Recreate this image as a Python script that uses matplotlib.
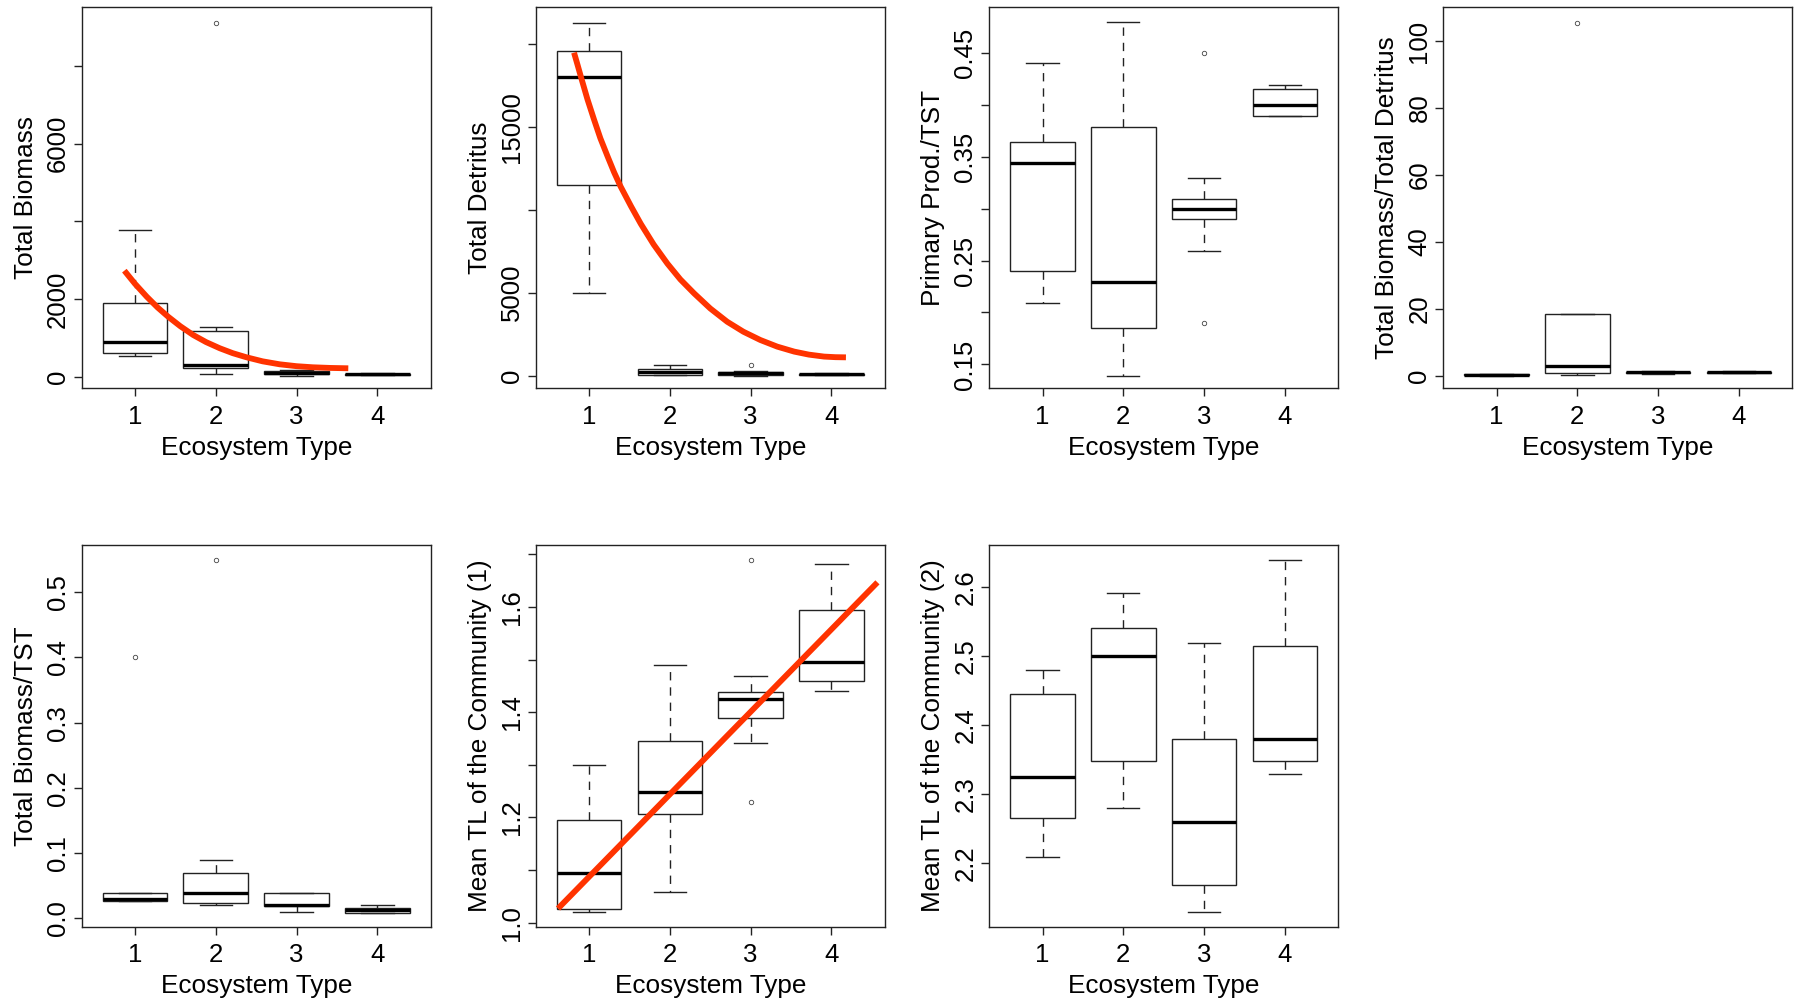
"""
Ecosystem-type boxplots of network indices (seven panels, R-style layout).

Output:
    out.png
"""

import matplotlib
matplotlib.use("Agg")
import matplotlib.pyplot as plt

plt.rcParams["font.family"] = ["Liberation Sans", "DejaVu Sans"]

groups = [1, 2, 3, 4]
x_label = "Ecosystem Type"

# Total Biomass
biomass_whislo = [541, 69, 20, 40]
biomass_q1 = [618, 232, 60, 50]
biomass_med = [901, 301, 100, 65]
biomass_q3 = [1889, 1168, 150, 80]
biomass_whishi = [3776, 1271, 180, 90]
biomass_fliers = [[], [9112], [], []]
biomass_fit_x = [0.868, 1.00, 1.145, 1.28, 1.41, 1.56, 1.72, 1.88, 2.05,
                 2.21, 2.38, 2.58, 2.79, 3.00, 3.20, 3.42, 3.64]
biomass_fit_y = [2729, 2390, 2059, 1780, 1544, 1300, 1073, 890, 731,
                 605, 499, 395, 319, 270, 242, 225, 216]

# Total Detritus
detritus_whislo = [5000, 60, 0, 20]
detritus_q1 = [11488, 60, 60, 40]
detritus_med = [17976, 220, 150, 80]
detritus_q3 = [19578, 380, 250, 120]
detritus_whishi = [21265, 660, 290, 140]
detritus_fliers = [[], [], [660], []]
detritus_fit_x = [0.814, 0.86, 0.90, 0.98, 1.06, 1.14, 1.23, 1.31, 1.39,
                  1.52, 1.64, 1.80, 1.97, 2.13, 2.30, 2.50, 2.71, 2.91,
                  3.12, 3.33, 3.54, 3.72, 3.91, 4.05, 4.18]
detritus_fit_y = [19458, 18680, 17990, 16650, 15450, 14300, 13200, 12250,
                  11400, 10200, 9150, 7900, 6750, 5800, 4960, 4050, 3250,
                  2650, 2150, 1750, 1450, 1270, 1150, 1115, 1105]

# Primary Prod./TST
pp_whislo = [0.2088, 0.1391, 0.2594, 0.3891]
pp_q1 = [0.2396, 0.1847, 0.2900, 0.3891]
pp_med = [0.3441, 0.2296, 0.2993, 0.3997]
pp_q3 = [0.3643, 0.3788, 0.3092, 0.4148]
pp_whishi = [0.4398, 0.4792, 0.3297, 0.4189]
pp_fliers = [[], [], [0.45, 0.19], []]

# Total Biomass/Total Detritus
bd_whislo = [0.05, 0.2, 0.5, 0.8]
bd_q1 = [0.1, 0.7, 0.7, 0.8]
bd_med = [0.3, 3.0, 1.0, 1.0]
bd_q3 = [0.5, 18.4, 1.2, 1.2]
bd_whishi = [0.6, 18.4, 1.5, 1.3]
bd_fliers = [[], [105.5], [], []]

# Total Biomass/TST
bt_whislo = [0.027, 0.0209, 0.0102, 0.0087]
bt_q1 = [0.027, 0.024, 0.0189, 0.0087]
bt_med = [0.0291, 0.0393, 0.0209, 0.0128]
bt_q3 = [0.0393, 0.070, 0.0393, 0.0153]
bt_whishi = [0.0393, 0.0894, 0.0393, 0.0204]
bt_fliers = [[0.40], [0.55], [], []]

# Mean TL of the Community (1)
tl1_whislo = [1.0209, 1.0589, 1.341, 1.4398]
tl1_q1 = [1.0253, 1.206, 1.3885, 1.46]
tl1_med = [1.0938, 1.249, 1.4246, 1.4962]
tl1_q3 = [1.1952, 1.3454, 1.4392, 1.5944]
tl1_whishi = [1.2997, 1.4899, 1.4696, 1.6819]
tl1_fliers = [[], [], [1.6895, 1.2288], []]
tl1_fit_x = [0.616, 4.57]
tl1_fit_y = [1.027, 1.647]

# Mean TL of the Community (2)
tl2_whislo = [2.2097, 2.2797, 2.130, 2.3295]
tl2_q1 = [2.2652, 2.3488, 2.1686, 2.3488]
tl2_med = [2.3256, 2.5005, 2.2594, 2.3797]
tl2_q3 = [2.4454, 2.5406, 2.3797, 2.515]
tl2_whishi = [2.480, 2.5913, 2.5188, 2.6396]
tl2_fliers = [[], [], [], []]


def make_stats(whislo, q1, med, q3, whishi, fliers):
    stats = []
    for i in range(len(med)):
        stats.append(
            {
                "whislo": whislo[i],
                "q1": q1[i],
                "med": med[i],
                "q3": q3[i],
                "whishi": whishi[i],
                "fliers": fliers[i],
            }
        )
    return stats


# (axes rect in figure fraction, ylabel, stats, ylim, yticks, yticklabels, fit)
panels = [
    (
        [0.0455, 0.6117, 0.1943, 0.381],
        "Total Biomass",
        make_stats(biomass_whislo, biomass_q1, biomass_med, biomass_q3,
                   biomass_whishi, biomass_fliers),
        (-299, 9508),
        [0, 2000, 4000, 6000, 8000],
        ["0", "2000", "", "6000", ""],
        (biomass_fit_x, biomass_fit_y),
    ),
    (
        [0.2983, 0.6117, 0.1943, 0.381],
        "Total Detritus",
        make_stats(detritus_whislo, detritus_q1, detritus_med, detritus_q3,
                   detritus_whishi, detritus_fliers),
        (-760, 22190),
        [0, 5000, 10000, 15000, 20000],
        ["0", "5000", "", "15000", ""],
        (detritus_fit_x, detritus_fit_y),
    ),
    (
        [0.5508, 0.6117, 0.1943, 0.381],
        "Primary Prod./TST",
        make_stats(pp_whislo, pp_q1, pp_med, pp_q3, pp_whishi, pp_fliers),
        (0.127, 0.4937),
        [0.15, 0.20, 0.25, 0.30, 0.35, 0.40, 0.45],
        ["0.15", "", "0.25", "", "0.35", "", "0.45"],
        None,
    ),
    (
        [0.8036, 0.6117, 0.1943, 0.381],
        "Total Biomass/Total Detritus",
        make_stats(bd_whislo, bd_q1, bd_med, bd_q3, bd_whishi, bd_fliers),
        (-3.77, 110.1),
        [0, 20, 40, 60, 80, 100],
        ["0", "20", "40", "60", "80", "100"],
        None,
    ),
    (
        [0.0455, 0.0733, 0.1943, 0.3817],
        "Total Biomass/TST",
        make_stats(bt_whislo, bt_q1, bt_med, bt_q3, bt_whishi, bt_fliers),
        (-0.0129, 0.5725),
        [0.0, 0.1, 0.2, 0.3, 0.4, 0.5],
        ["0.0", "0.1", "0.2", "0.3", "0.4", "0.5"],
        None,
    ),
    (
        [0.2983, 0.0733, 0.1943, 0.3817],
        "Mean TL of the Community (1)",
        make_stats(tl1_whislo, tl1_q1, tl1_med, tl1_q3, tl1_whishi,
                   tl1_fliers),
        (0.9924, 1.718),
        [1.0, 1.1, 1.2, 1.3, 1.4, 1.5, 1.6, 1.7],
        ["1.0", "", "1.2", "", "1.4", "", "1.6", ""],
        (tl1_fit_x, tl1_fit_y),
    ),
    (
        [0.5508, 0.0733, 0.1943, 0.3817],
        "Mean TL of the Community (2)",
        make_stats(tl2_whislo, tl2_q1, tl2_med, tl2_q3, tl2_whishi,
                   tl2_fliers),
        (2.108, 2.6613),
        [2.2, 2.3, 2.4, 2.5, 2.6],
        ["2.2", "2.3", "2.4", "2.5", "2.6"],
        None,
    ),
]

line_color = "#222222"
fit_color = "#ff3300"

fig = plt.figure(figsize=(17.96, 10), dpi=100)

for rect, ylabel, stats, ylim, yticks, yticklabels, fit in panels:
    ax = fig.add_axes(rect)

    ax.bxp(
        stats,
        positions=groups,
        widths=0.8,
        showfliers=True,
        patch_artist=True,
        boxprops=dict(facecolor="white", edgecolor=line_color, linewidth=1.0),
        whiskerprops=dict(color=line_color, linewidth=1.0,
                          linestyle=(0, (6, 5))),
        capprops=dict(color=line_color, linewidth=1.0),
        medianprops=dict(color="black", linewidth=2.4,
                         solid_capstyle="butt"),
        flierprops=dict(marker="o", markersize=3.2, markerfacecolor="none",
                        markeredgecolor="#444444", markeredgewidth=0.6),
    )

    if fit is not None:
        ax.plot(fit[0], fit[1], color=fit_color, linewidth=4.2,
                solid_capstyle="butt", solid_joinstyle="round", zorder=5)

    ax.set_xlim(0.34, 4.66)
    ax.set_ylim(*ylim)
    ax.set_xticks(groups, [str(g) for g in groups], fontsize=18.5)
    ax.set_yticks(yticks, yticklabels, fontsize=18.5, rotation=90,
                  va="center")

    ax.tick_params(axis="x", length=6, width=1.0, pad=6, colors=line_color,
                   labelcolor="black")
    ax.tick_params(axis="y", length=6, width=1.0, pad=2.5, colors=line_color,
                   labelcolor="black")

    for spine in ax.spines.values():
        spine.set_color(line_color)
        spine.set_linewidth(1.0)

    ax.set_xlabel(x_label, fontsize=18.8, labelpad=5)
    ax.set_ylabel(ylabel, fontsize=18.8, labelpad=6)

fig.savefig("out.png", dpi=100)
